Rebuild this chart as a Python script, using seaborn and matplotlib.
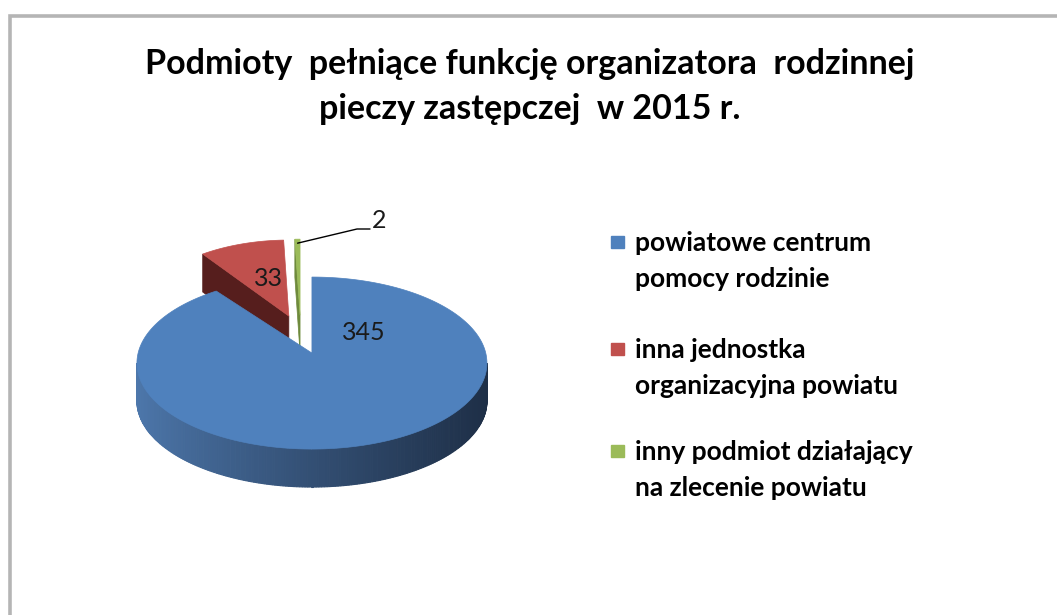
import numpy as np
import matplotlib
matplotlib.use("Agg")
import matplotlib.pyplot as plt
import seaborn as sns
from matplotlib.colors import to_rgb

# ---------------- data ----------------
categories = ["powiatowe centrum\npomocy rodzinie",
              "inna jednostka\norganizacyjna powiatu",
              "inny podmiot działający\nna zlecenie powiatu"]
values = [345, 33, 2]
title_lines = ["Podmioty  pełniące funkcję organizatora  rodzinnej",
               "pieczy zastępczej  w 2015 r."]

# ---------------- style ----------------
sns.set_theme(style="white")
plt.rcParams["font.family"] = ["Lato", "DejaVu Sans"]
palette = sns.color_palette(["#4F81BD", "#C0504D", "#9BBB59"])
wall_dark = ["#1E2F47", "#561E1D", "#6E8A3C"]
wall_light = ["#4D77AB", "#561E1D", "#6E8A3C"]

W, H = 1057, 615
fig = plt.figure(figsize=(W / 100, H / 100), dpi=100)
ax = fig.add_axes([0, 0, 1, 1])
ax.set_xlim(0, W)
ax.set_ylim(H, 0)
ax.axis("off")

# frame
ax.plot([10, 10, W + 5], [H + 5, 15.5, 15.5], color="#B5B5B5", lw=2.6,
        solid_joinstyle="miter", zorder=1)

# pie geometry (pseudo 3D)
cx, cy = 300.7, 344.5
a, b = 175.0, 86.0
lift = 10.0
depth = 38.0
explode = 0.225

total = float(sum(values))
angles = np.cumsum([0] + [v / total * 360.0 for v in values])


def rim(ex, ey, th, sx=1.0):
    t = np.radians(th)
    return ex + a * sx * np.sin(t), ey - b * np.cos(t)


slices = []
for i, v in enumerate(values):
    t0, t1 = angles[i], angles[i + 1]
    mid = np.radians((t0 + t1) / 2)
    ex = cx + explode * a * np.sin(mid)
    ey = cy - explode * b * np.cos(mid)
    slices.append((t0, t1, ex, ey))


def draw_slice(i, z, sx=1.0):
    t0, t1, ex, ey = slices[i]
    ax_, ay_ = ex, ey - lift
    col = palette[i]
    # start radial wall (visible if facing front-left)
    if i > 0:
        rx, ry = rim(ex, ey, t0, sx)
        ax.fill([ax_, rx, rx, ax_], [ay_, ry, ry + depth, ay_ + depth],
                color=wall_dark[i], lw=0.5, ec=wall_dark[i], zorder=z)
    # outer front wall with gradient
    lo, hi = max(t0, 90), min(t1, 270)
    if hi > lo:
        ths = np.linspace(lo, hi, 200)
        c1, c2 = np.array(to_rgb(wall_dark[i])), np.array(to_rgb(wall_light[i]))
        for k in range(len(ths) - 1):
            xa, ya = rim(ex, ey, ths[k], sx)
            xb, yb = rim(ex, ey, ths[k + 1], sx)
            tt = ((xa + xb) / 2 - (ex - a)) / (2 * a)
            c = c2 + (c1 - c2) * np.clip(tt, 0, 1) ** 0.85
            ax.fill([xa, xb, xb, xa], [ya, yb, yb + depth, ya + depth],
                    color=c, lw=0.8, ec=c, zorder=z)
    # top face
    ths = np.linspace(t0, t1, max(3, int((t1 - t0) * 2)))
    xs, ys = rim(ex, ey, ths, sx)
    ax.fill(np.r_[ax_, xs], np.r_[ay_, ys], color=col, lw=0.5, ec=col, zorder=z + 1)


draw_slice(1, 2, sx=0.9)
draw_slice(2, 4, sx=0.9)
draw_slice(0, 6)

# data labels
lab_fs = 18
ax.text(364, 333, str(values[0]), fontsize=lab_fs, ha="center", va="center", color="#1a1a1a", zorder=10)
ax.text(268, 278, str(values[1]), fontsize=lab_fs, ha="center", va="center", color="#1a1a1a", zorder=10)
gx, gy = rim(slices[2][2], slices[2][3], angles[2] + 1, 0.9)
ax.plot([gx, 357, 370], [gy + 4, 229, 229], color="black", lw=1.0, zorder=10)
ax.text(379, 221, str(values[2]), fontsize=lab_fs, ha="center", va="center", color="#1a1a1a", zorder=10)

# title
for k, line in enumerate(title_lines):
    ax.text(530, 64 + 45 * k, line, fontsize=24.5, fontweight="bold", ha="center",
            va="center", color="black", zorder=10)

# legend
leg_y = [243, 350, 452]
for i, name in enumerate(categories):
    y = leg_y[i]
    ax.fill([611, 624, 624, 611], [y - 7, y - 7, y + 5, y + 5],
            color=palette[i], zorder=10)
    for k, part in enumerate(name.split("\n")):
        ax.text(635, y + 36 * k, part, fontsize=19, fontweight="bold", ha="left",
                va="center", color="black", zorder=10)

fig.savefig("out.png", dpi=100)
